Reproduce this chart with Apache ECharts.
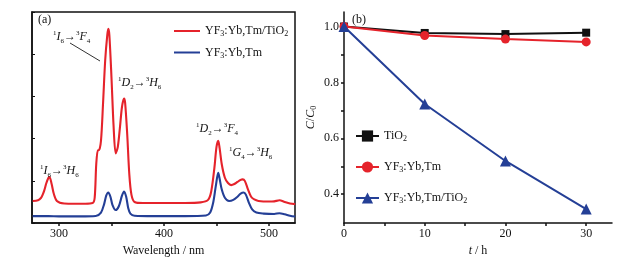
<!DOCTYPE html>
<html>
<head>
<meta charset="utf-8">
<script src="https://cdn.jsdelivr.net/npm/echarts@6/dist/echarts.min.js"></script>
<style>
html, body { margin: 0; padding: 0; background: #fff; }
#main { width: 638px; height: 262px; }
</style>
</head>
<body>
<div id="main"></div>
<script>
// (a) emission spectra (arbitrary intensity 0-100)
var wlRed = [275, 280, 283, 284.5, 286, 288, 290, 291, 293, 295, 298, 305, 315, 325, 332, 334, 335.5, 337, 338, 340, 342, 344, 346, 347, 348, 350, 352, 354, 356, 358, 360, 362, 363, 365, 367, 369, 372, 380, 400, 420, 435, 442, 445, 448, 450, 451.7, 453, 455, 458, 461, 464, 467, 470, 473, 475, 477, 480, 483, 486, 490, 500, 505, 510, 515, 520, 525];
var redI = [10.5, 10.8, 12, 13.5, 15.5, 19, 21.5, 21.8, 18.5, 14, 10.5, 9.3, 9.2, 9.2, 9.5, 12, 28, 34.5, 34.5, 39, 57, 77, 89, 92, 89, 69, 46, 33, 36, 45, 55, 59, 57, 42, 23, 13.5, 10, 9.5, 9.5, 9.5, 9.8, 11, 15, 26, 36, 39, 35.5, 28, 21.5, 19, 18, 18.5, 19.5, 20.5, 20.7, 20, 16, 12.5, 11.2, 10.5, 10.2, 10.3, 10.8, 10, 9.3, 9];
var wlBlue = [275, 290, 300, 320, 335, 340, 343, 345, 347, 349, 351, 354, 357, 360, 362, 364, 366, 368, 372, 390, 420, 440, 444, 447, 449.5, 451.7, 453, 455, 458, 462, 466, 470, 473, 476, 478, 481, 484, 488, 495, 505, 510, 515, 520, 525];
var blueI = [3.3, 3.3, 3.2, 3.2, 3.4, 5, 9, 13, 14.5, 12.5, 8.5, 6.2, 8, 13, 15, 12.5, 7, 4.5, 3.5, 3.3, 3.3, 3.6, 5, 10, 18, 23.8, 21, 16, 12, 10.5, 11, 12.5, 14, 14.5, 13.5, 9.5, 6.5, 5, 4.5, 4.3, 4.7, 4.2, 3.5, 3.1];

// (b) degradation C/C0 vs time
var tHours = [0, 10, 20, 30];
var tio2 = [1.0, 0.977, 0.973, 0.978];
var yfOnly = [1.0, 0.968, 0.955, 0.945];
var yfTio2 = [1.0, 0.723, 0.519, 0.347];

var xTicksA = [300, 350, 400, 450, 500];
var xLabelsA = [300, 400, 500];
var xTicksB = [0, 5, 10, 15, 20, 25, 30];
var xLabelsB = [0, 10, 20, 30];
var yTicksB = [0.4, 0.5, 0.6, 0.7, 0.8, 0.9, 1.0];
var yLabelsB = [0.4, 0.6, 0.8, 1.0];

var FONT = '"Liberation Serif", "DejaVu Serif", serif';
var RED = '#e5232b';
var BLUE = '#243f96';

function zip(a, b) {
    var d = [];
    for (var i = 0; i < a.length; i++) d.push([a[i], b[i]]);
    return d;
}

var legendText = {
    'aRed': '{n|YF}{sub|3}{n|:Yb,Tm/TiO}{sub|2}',
    'aBlue': '{n|YF}{sub|3}{n|:Yb,Tm}',
    'bTio2': '{n|TiO}{sub|2}',
    'bYf': '{n|YF}{sub|3}{n|:Yb,Tm}',
    'bYfTio2': '{n|YF}{sub|3}{n|:Yb,Tm/TiO}{sub|2}'
};
var legendRich = {
    n: { fontFamily: FONT, fontSize: 12, color: '#111', lineHeight: 14 },
    sub: { fontFamily: FONT, fontSize: 8, color: '#111', lineHeight: 8, verticalAlign: 'bottom' }
};

// rich label for transitions like 1I6 -> 3F4
var transRich = {
    i: { fontFamily: FONT, fontSize: 12, fontStyle: 'italic', fill: '#111', lineHeight: 15 },
    r: { fontFamily: FONT, fontSize: 12, fill: '#111', lineHeight: 15 },
    sup: { fontFamily: FONT, fontSize: 7, fill: '#111', lineHeight: 8, verticalAlign: 'top' },
    sub: { fontFamily: FONT, fontSize: 7, fill: '#111', lineHeight: 8, verticalAlign: 'bottom' }
};
function trans(a, an, b, bn) {
    return '{sup|1}{i|' + a + '}{sub|' + an + '}{r|\u2192}{sup|3}{i|' + b + '}{sub|' + bn + '}';
}
function label(x, y, text) {
    return {
        type: 'text', x: x, y: y, z: 50,
        style: { text: text, rich: transRich, verticalAlign: 'middle', fill: '#111', font: '12px ' + FONT }
    };
}

var axisTxt = { fontFamily: FONT, fontSize: 12, color: '#111' };

var option = {
    animation: false,
    backgroundColor: '#fff',
    grid: [
        { left: 32, right: 343, top: 12, bottom: 36, show: true, borderColor: '#111', borderWidth: 1.5 },
        { left: 344, right: 26, top: 12, bottom: 36 }
    ],
    xAxis: [
        {
            gridIndex: 0, type: 'value', min: 274.3, max: 524.8,
            name: 'Wavelength / nm', nameLocation: 'middle', nameGap: 21,
            nameTextStyle: { fontFamily: FONT, fontSize: 12, color: '#111' },
            splitLine: { show: false },
            axisLine: { lineStyle: { color: '#111', width: 1.5 } },
            axisTick: { customValues: xTicksA, length: 3, lineStyle: { color: '#111', width: 1.5 } },
            axisLabel: Object.assign({ customValues: xLabelsA, margin: 5 }, axisTxt)
        },
        {
            gridIndex: 1, type: 'value', min: 0, max: 33.2,
            name: '{it|t}{n| / h}', nameLocation: 'middle', nameGap: 22,
            nameTextStyle: {
                rich: {
                    it: { fontFamily: FONT, fontSize: 12, fontStyle: 'italic', color: '#111' },
                    n: { fontFamily: FONT, fontSize: 12, color: '#111' }
                }
            },
            splitLine: { show: false },
            axisLine: { lineStyle: { color: '#111', width: 1.5 } },
            axisTick: { customValues: xTicksB, length: 3, lineStyle: { color: '#111', width: 1.5 } },
            axisLabel: Object.assign({ customValues: xLabelsB, margin: 5 }, axisTxt)
        }
    ],
    yAxis: [
        {
            gridIndex: 0, type: 'value', min: 0, max: 100,
            splitLine: { show: false },
            axisLine: { lineStyle: { color: '#111', width: 1.5 } },
            axisTick: { inside: true, length: 3, lineStyle: { color: '#111' } },
            axisLabel: { show: false }
        },
        {
            gridIndex: 1, type: 'value', min: 0.297, max: 1.052,
            name: '{it|C}{n|/}{it|C}{sub|0}', nameLocation: 'middle', nameGap: 26,
            nameTextStyle: {
                rich: {
                    it: { fontFamily: FONT, fontSize: 12, fontStyle: 'italic', color: '#111', lineHeight: 14 },
                    n: { fontFamily: FONT, fontSize: 12, color: '#111', lineHeight: 14 },
                    sub: { fontFamily: FONT, fontSize: 8, color: '#111', lineHeight: 8, verticalAlign: 'bottom' }
                }
            },
            splitLine: { show: false },
            axisLine: { lineStyle: { color: '#111', width: 1.5 } },
            axisTick: { customValues: yTicksB, length: 3, lineStyle: { color: '#111', width: 1.5 } },
            axisLabel: Object.assign({
                customValues: yLabelsB, margin: 5,
                formatter: function (v) { return v.toFixed(1); }
            }, axisTxt)
        }
    ],
    legend: [
        {
            data: [{ name: 'aRed', icon: 'rect' }, { name: 'aBlue', icon: 'rect' }],
            orient: 'vertical', left: 174, top: 25, padding: 0,
            itemWidth: 26, itemHeight: 2, itemGap: 8.5,
            formatter: function (n) { return legendText[n]; },
            textStyle: { rich: legendRich }
        },
        {
            data: ['bTio2', 'bYf', 'bYfTio2'], orient: 'vertical', left: 355, top: 130, padding: 0,
            itemWidth: 23, itemHeight: 14, itemGap: 18,
            formatter: function (n) { return legendText[n]; },
            textStyle: { rich: legendRich }
        }
    ],
    series: [
        {
            name: 'aRed', type: 'line', xAxisIndex: 0, yAxisIndex: 0,
            data: zip(wlRed, redI), symbol: 'none', smooth: 0.3,
            lineStyle: { color: RED, width: 2.1 }, itemStyle: { color: RED }
        },
        {
            name: 'aBlue', type: 'line', xAxisIndex: 0, yAxisIndex: 0,
            data: zip(wlBlue, blueI), symbol: 'none', smooth: 0.3,
            lineStyle: { color: BLUE, width: 2.1 }, itemStyle: { color: BLUE }
        },
        {
            name: 'bTio2', type: 'line', xAxisIndex: 1, yAxisIndex: 1,
            data: zip(tHours, tio2), symbol: 'rect', symbolSize: 8,
            lineStyle: { color: '#111', width: 2 }, itemStyle: { color: '#111' }
        },
        {
            name: 'bYf', type: 'line', xAxisIndex: 1, yAxisIndex: 1,
            data: zip(tHours, yfOnly), symbol: 'circle', symbolSize: 9,
            lineStyle: { color: RED, width: 2 }, itemStyle: { color: RED }
        },
        {
            name: 'bYfTio2', type: 'line', xAxisIndex: 1, yAxisIndex: 1,
            data: zip(tHours, yfTio2), symbol: 'triangle', symbolSize: 11,
            lineStyle: { color: BLUE, width: 2 }, itemStyle: { color: BLUE }
        }
    ],
    graphic: [
        { type: 'text', x: 38, y: 20, style: { text: '(a)', font: '12px ' + FONT, fill: '#111', verticalAlign: 'middle' } },
        { type: 'text', x: 352, y: 20, style: { text: '(b)', font: '12px ' + FONT, fill: '#111', verticalAlign: 'middle' } },
        label(53, 37, trans('I', '6', 'F', '4')),
        { type: 'line', shape: { x1: 70, y1: 43, x2: 100, y2: 61 }, style: { stroke: '#333', lineWidth: 1 } },
        label(118, 83, trans('D', '2', 'H', '6')),
        label(40, 171, trans('I', '6', 'H', '6')),
        label(196, 129, trans('D', '2', 'F', '4')),
        label(229, 153, trans('G', '4', 'H', '6'))
    ]
};

var myChart = echarts.init(document.getElementById('main'));
myChart.setOption(option);
</script>
</body>
</html>
